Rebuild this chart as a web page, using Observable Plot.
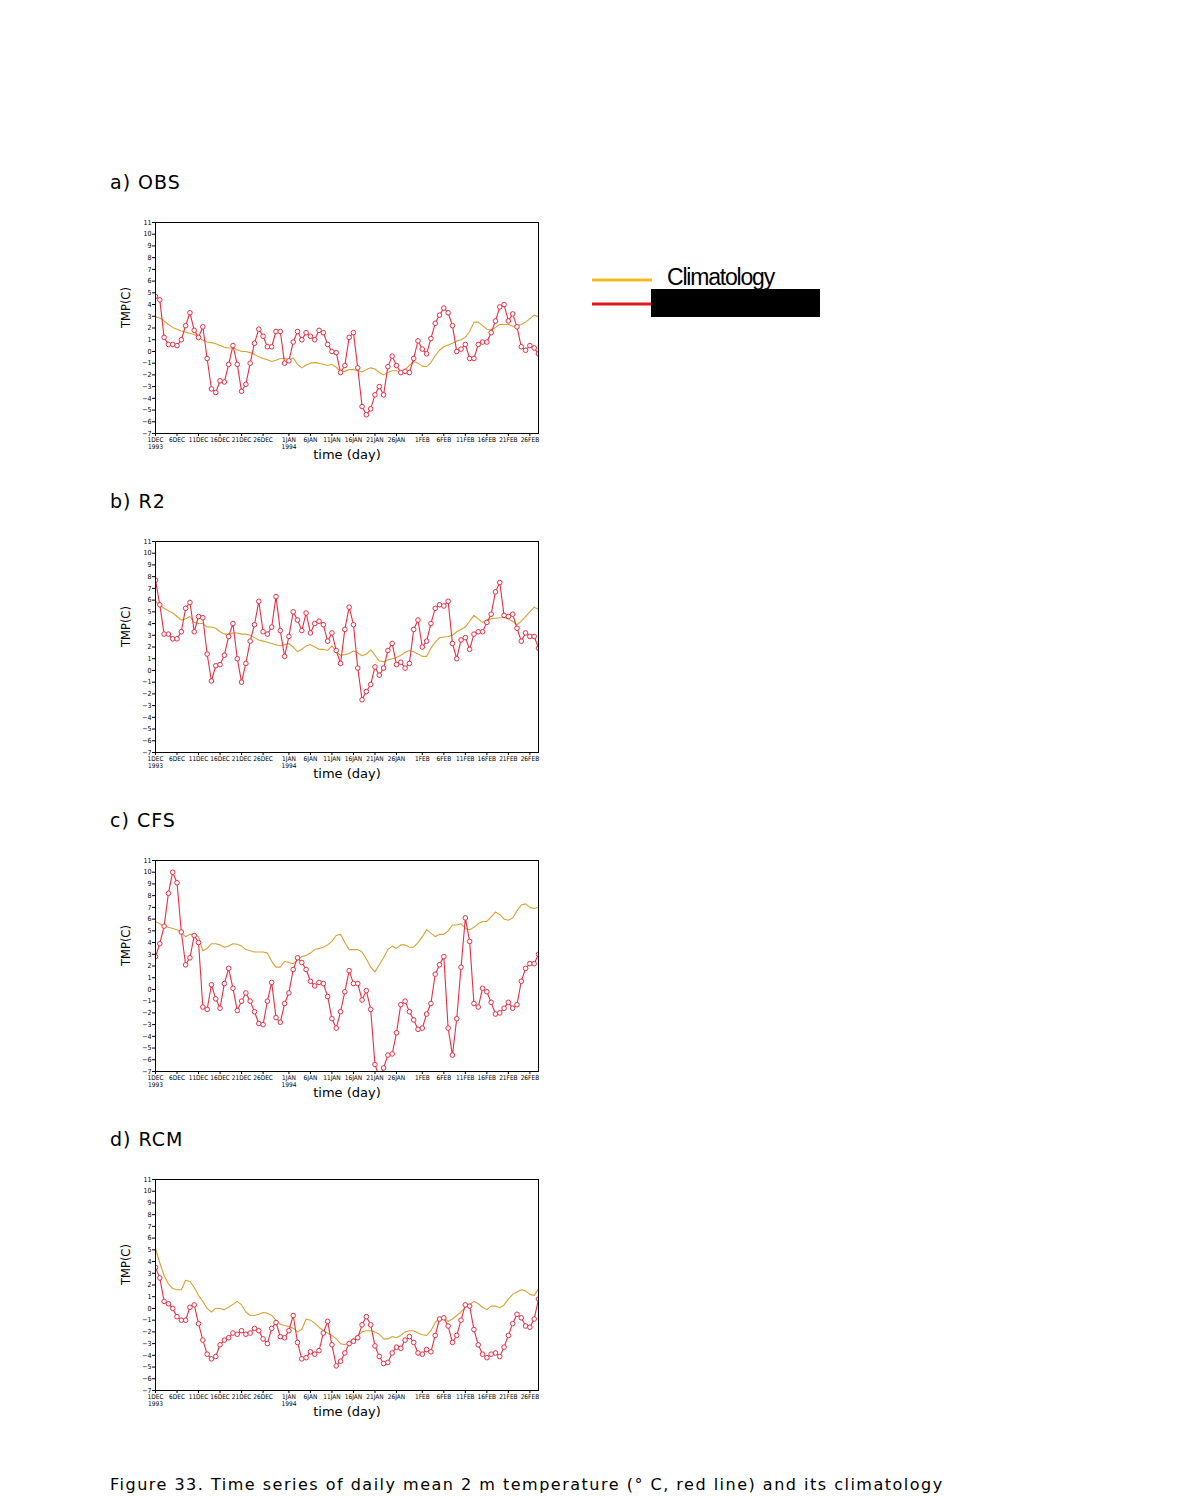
<!DOCTYPE html>
<html>
<head>
<meta charset="utf-8">
<script src="https://cdn.jsdelivr.net/npm/d3@7"></script>
<script src="https://cdn.jsdelivr.net/npm/@observablehq/plot@0.6"></script>
<style>
  html, body { margin: 0; padding: 0; background: #fff; }
  #page { position: relative; width: 1191px; height: 1497px; overflow: hidden; background: #fff; }
  .ptitle { position: absolute; left: 110px; font-family: "DejaVu Sans", sans-serif; font-size: 19px; letter-spacing: 1px; color: #000; word-spacing: 0px; white-space: pre; }
  .panel { position: absolute; left: 100px; }
  #caption { position: absolute; left: 110px; top: 1476px; font-family: "DejaVu Sans", sans-serif; font-size: 16px; line-height: 18px; letter-spacing: 1.5px; white-space: nowrap; color: #000; }
</style>
</head>
<body>
<div id="page"></div>
<script>
// ---- data ----
const panelTitles = ["a) OBS", "b) R2", "c) CFS", "d) RCM"];
const tickDays = [0, 5, 10, 15, 20, 25, 31, 36, 41, 46, 51, 56, 62, 67, 72, 77, 82, 87];
const tickLabels = ["1DEC\n1993", "6DEC", "11DEC", "16DEC", "21DEC", "26DEC", "1JAN\n1994", "6JAN", "11JAN", "16JAN", "21JAN", "26JAN", "1FEB", "6FEB", "11FEB", "16FEB", "21FEB", "26FEB"];
const yTicks = [-7, -6, -5, -4, -3, -2, -1, 0, 1, 2, 3, 4, 5, 6, 7, 8, 9, 10, 11];

const obs = [4.7,4.4,1.2,0.6,0.6,0.5,1.0,2.2,3.3,1.8, 1.2,2.1,-0.6,-3.2,-3.5,-2.5,-2.6,-1.1,0.5,-1.1, -3.4,-2.8,-1.0,0.7,1.9,1.3,0.4,0.4,1.7,1.7, -1.0,-0.8,0.8,1.7,1.0,1.6,1.3,1.0,1.8,1.6, 0.6,0.0,-0.1,-1.8,-1.2,1.2,1.6,-1.4,-4.7,-5.4, -4.9,-3.7,-3.0,-3.7,-1.3,-0.4,-1.2,-1.8,-1.7,-1.8, -0.6,0.9,0.2,-0.2,1.1,2.4,3.1,3.7,3.3,2.2, 0.0,0.2,0.6,-0.6,-0.6,0.6,0.8,0.8,1.6,2.6, 3.8,4.0,2.6,3.2,2.1,0.4,0.1,0.5,0.3,-0.2];
const climObs = [2.95,2.85,2.6,2.3,2.05,1.9,1.75,1.65,1.55,1.45, 1.2,0.95,0.8,0.75,0.65,0.5,0.35,0.3,0.3,0.15, 0.0,0.0,-0.1,-0.25,-0.45,-0.6,-0.7,-0.85,-0.75,-0.6, -0.6,-0.7,-0.55,-1.1,-1.4,-1.15,-1.0,-0.95,-1.0,-1.1, -1.2,-1.1,-1.35,-1.7,-1.7,-1.55,-1.55,-1.65,-1.75,-1.55, -1.4,-1.5,-1.8,-2.0,-1.8,-1.65,-1.65,-1.75,-1.55,-1.2, -0.85,-1.0,-1.25,-1.3,-0.95,-0.35,0.1,0.4,0.55,0.7, 0.9,1.0,1.2,1.7,2.5,2.5,2.2,1.9,1.85,2.05, 2.3,2.3,2.3,2.15,2.2,2.3,2.5,2.8,3.1,2.95];

const r2 = [7.7,5.6,3.1,3.1,2.7,2.7,3.3,5.3,5.8,3.3, 4.6,4.5,1.4,-0.9,0.4,0.5,1.3,2.9,4.0,1.0, -1.0,0.6,2.5,3.9,5.9,3.3,3.1,3.7,6.3,3.4, 1.2,2.9,5.0,4.3,3.4,4.9,3.2,4.0,4.2,3.9, 2.5,3.2,1.7,0.6,3.5,5.4,3.9,0.2,-2.5,-1.8, -1.2,0.3,-0.4,0.2,1.7,2.3,0.5,0.7,0.2,0.6, 3.5,4.3,2.0,2.5,4.0,5.3,5.6,5.5,5.9,2.3, 1.0,2.6,2.8,1.8,3.1,3.3,3.3,4.1,4.8,6.7, 7.5,4.7,4.6,4.8,3.6,2.5,3.2,2.9,2.9,1.9];
const climR2 = [5.9,5.6,5.3,5.1,4.9,4.6,4.3,4.4,4.6,4.1, 4.0,4.0,3.7,3.7,3.6,3.3,3.1,3.1,3.2,3.2, 3.1,3.1,3.0,2.8,2.6,2.5,2.4,2.3,2.2,2.1, 2.2,2.3,2.0,1.6,1.8,2.1,2.2,2.0,1.8,1.8, 1.7,2.1,1.6,1.3,1.35,1.45,1.65,1.5,1.25,1.4, 1.75,1.3,0.8,0.75,0.9,1.0,1.1,1.3,1.55,1.7, 1.6,1.4,1.2,1.2,1.9,2.4,2.8,2.85,2.9,3.0, 3.3,3.5,3.7,4.2,4.7,4.4,4.1,4.3,4.4,4.45, 4.5,4.5,4.4,4.2,3.9,4.2,4.6,5.0,5.4,5.2];

const cfs = [2.8,3.9,5.4,8.2,10.0,9.1,4.9,2.1,2.7,4.6, 4.0,-1.5,-1.7,0.4,-0.8,-1.6,0.5,1.8,0.1,-1.8, -1.0,-0.3,-1.0,-1.9,-2.9,-3.0,-1.0,0.6,-2.4,-2.8, -1.2,-0.3,1.7,2.7,2.3,1.7,0.7,0.3,0.6,0.5, -0.6,-2.5,-3.3,-1.9,-0.2,1.6,0.5,0.5,-0.9,-0.1, -1.7,-6.4,-7.5,-6.7,-5.6,-5.5,-3.7,-1.3,-1.0,-1.9, -2.6,-3.4,-3.3,-2.1,-1.2,1.3,2.1,2.8,-3.3,-5.6, -2.5,1.9,6.1,4.1,-1.2,-1.5,0.1,-0.2,-1.1,-2.1, -2.0,-1.6,-1.1,-1.6,-1.3,0.7,1.8,2.2,2.2,3.0];
const climCfs = [5.8,5.6,5.4,5.3,5.2,5.1,4.8,4.5,4.7,4.7, 4.5,3.3,3.5,3.9,3.9,3.8,3.6,3.7,3.9,3.85, 3.7,3.4,3.3,3.2,3.2,3.2,3.1,2.4,1.9,1.9, 2.4,2.3,2.2,2.5,2.8,2.9,3.1,3.4,3.5,3.6, 3.8,4.1,4.6,4.7,4.0,3.4,3.4,3.4,3.2,2.6, 1.9,1.5,2.1,2.7,3.4,3.7,3.5,3.8,3.8,3.6, 3.6,4.0,4.5,5.1,4.8,4.5,4.7,4.7,5.0,5.5, 5.5,5.6,5.2,5.1,5.3,5.6,5.8,5.8,6.2,6.6, 6.4,6.0,5.9,6.1,6.7,7.2,7.3,7.0,6.9,7.0];

const rcm = [3.5,2.6,0.6,0.4,0.0,-0.7,-1.0,-1.0,0.1,0.3, -1.3,-2.7,-3.9,-4.3,-4.1,-3.1,-2.7,-2.5,-2.1,-2.2, -1.9,-2.2,-2.1,-1.7,-1.9,-2.6,-3.0,-1.7,-1.2,-2.4, -2.5,-1.9,-0.6,-2.9,-4.3,-4.2,-3.7,-3.9,-3.6,-2.1, -1.1,-3.1,-4.9,-4.5,-3.8,-3.0,-2.8,-2.5,-1.4,-0.7, -1.4,-3.2,-4.1,-4.7,-4.6,-3.8,-3.3,-3.4,-2.7,-2.4, -2.9,-3.8,-3.9,-3.5,-3.7,-2.3,-0.9,-0.8,-1.5,-2.9, -2.3,-1.0,0.3,0.2,-1.8,-3.1,-3.9,-4.2,-3.9,-3.8, -4.1,-3.3,-2.3,-1.3,-0.5,-0.8,-1.5,-1.6,-0.9,0.8];
const climRcm = [5.1,3.9,2.8,2.1,1.7,1.6,1.6,2.4,2.3,1.8, 1.1,0.6,0.0,-0.3,0.0,0.0,-0.1,0.1,0.35,0.6, 0.3,-0.3,-0.6,-0.6,-0.5,-0.35,-0.4,-0.6,-1.0,-1.35, -1.45,-1.55,-1.7,-2.0,-1.8,-0.9,-1.0,-1.25,-1.6,-1.9, -2.1,-2.3,-2.6,-3.0,-3.1,-2.9,-2.6,-2.3,-2.0,-1.9, -1.9,-2.0,-2.2,-2.6,-2.6,-2.4,-2.5,-2.3,-2.0,-1.9, -1.9,-2.1,-2.25,-2.3,-1.9,-1.2,-0.85,-0.8,-1.1,-0.9, -0.6,-0.3,0.1,0.3,0.6,0.4,0.1,-0.1,0.2,0.2, 0.05,0.3,0.8,1.2,1.4,1.6,1.5,1.2,1.1,1.7];

const seriesList = [obs, r2, cfs, rcm];
const climList = [climObs, climR2, climCfs, climRcm];
const legendLabels = ["Climatology", ""];

// ---- styles ----
const RED = "#e62f45";
const CLIM = "#d8a235";
const LEG_ORANGE = "#f4b81f";
const LEG_RED = "#e01818";
const labelByDay = new Map(tickDays.map((d, i) => [d, tickLabels[i]]));

const page = document.getElementById("page");
const PANEL_STEP = 319;

seriesList.forEach((series, k) => {
  const t = document.createElement("div");
  t.className = "ptitle";
  t.style.top = (171 + k * PANEL_STEP) + "px";
  t.textContent = panelTitles[k];
  page.appendChild(t);

  const chart = Plot.plot({
    width: 450,
    height: 258,
    marginLeft: 55,
    marginRight: 12,
    marginTop: 12,
    marginBottom: 35,
    x: {domain: [0, 89]},
    y: {domain: [-7, 11]},
    style: {fontFamily: "'DejaVu Sans Condensed', 'DejaVu Sans', sans-serif", fontSize: "7px", background: "white", color: "black"},
    marks: [
      Plot.line(climList[k], {x: (d, i) => i, y: d => d, stroke: CLIM, strokeWidth: 1.1, clip: true}),
      Plot.line(series, {x: (d, i) => i, y: d => d, stroke: RED, strokeWidth: 1.1, clip: true}),
      Plot.dot(series, {x: (d, i) => i, y: d => d, r: 2.3, stroke: RED, fill: "white", strokeWidth: 1, clip: true}),
      Plot.frame({stroke: "black", strokeWidth: 1}),
      Plot.axisY(yTicks, {tickSize: 3, tickPadding: 1, fontSize: 7, label: null, stroke: "black"}),
      Plot.axisX(tickDays, {tickSize: 3, tickPadding: 1, fontSize: 6.5, label: null, lineHeight: 1.0, tickFormat: d => labelByDay.get(d), stroke: "black"}),
      Plot.text(["TMP(C)"], {frameAnchor: "left", rotate: -90, dx: -29, fontSize: 11.5, fontFamily: "'DejaVu Sans', sans-serif"}),
      Plot.text(["time (day)"], {frameAnchor: "bottom", dy: 25, fontSize: 13, fontFamily: "'DejaVu Sans', sans-serif"})
    ]
  });
  chart.classList.add("panel");
  chart.style.top = (210 + k * PANEL_STEP) + "px";
  chart.style.position = "absolute";
  chart.style.left = "100px";
  page.appendChild(chart);
});

// ---- legend ----
const legend = document.createElementNS("http://www.w3.org/2000/svg", "svg");
legend.setAttribute("width", "260");
legend.setAttribute("height", "70");
legend.style.position = "absolute";
legend.style.left = "580px";
legend.style.top = "255px";
legend.innerHTML = `
  <line x1="12" x2="72" y1="25" y2="25" stroke="${LEG_ORANGE}" stroke-width="3"/>
  <line x1="12" x2="72" y1="49" y2="49" stroke="${LEG_RED}" stroke-width="3"/>
  <text x="87" y="30" font-family="Liberation Sans, Arial, sans-serif" font-size="23" letter-spacing="-1.2" fill="#000">${legendLabels[0]}</text>
  <rect x="71" y="34" width="169" height="28" fill="#000"/>
`;
page.appendChild(legend);

// ---- caption ----
const cap = document.createElement("div");
cap.id = "caption";
cap.textContent = "Figure 33. Time series of daily mean 2 m temperature (\u00B0 C, red line) and its climatology";
page.appendChild(cap);
</script>
</body>
</html>
